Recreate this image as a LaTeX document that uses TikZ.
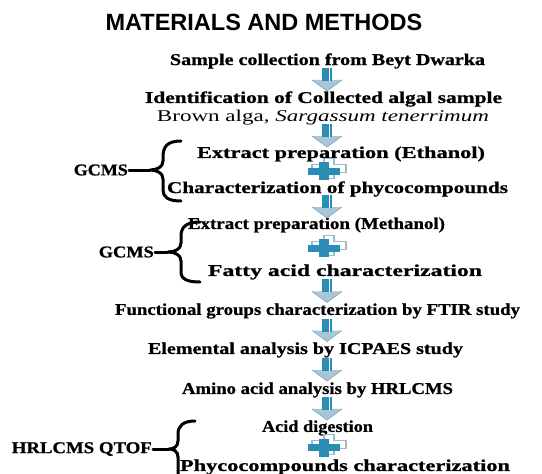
\documentclass[tikz,border=0pt]{standalone}
\usepackage{fontspec}
\setmainfont{Liberation Serif}[BoldFeatures={FakeBold=0.8}]
\newfontfamily\titlefont{Liberation Sans}
\usepackage{graphicx}
\definecolor{tealc}{HTML}{2B8DB5}
\definecolor{headc}{HTML}{A9C6D8}
\definecolor{headd}{HTML}{7FA6BD}
\definecolor{plusline}{HTML}{9DBBCD}
\newcommand\stepfont{\fontsize{16.5}{18}\selectfont\bfseries}
\newcommand\fitw[2]{\resizebox{#1pt}{\height}{#2}}
\tikzset{
  stepbox/.style={font=\stepfont, inner sep=1pt},
  sidelabel/.style={font=\stepfont, inner sep=1pt},
  bracestyle/.style={line width=3pt, line cap=round, line join=round},
  flowarrow/.pic={
    \fill[headc] (-15,0) -- (15,0) -- (0,11) -- cycle;
    \draw[headd, line width=0.6pt] (-15,0) -- (0,11) -- (15,0);
    \fill[tealc] (-5,-12) rectangle (5,1);
    \draw[white, line width=1pt] (2.5,-12) -- (2.5,1);
  },
  pluspic/.pic={
    \draw[plusline, line width=1.2pt, shift={(5,-3)}]
      (-5,-10) -- (5,-10) -- (5,-4) -- (17,-4) -- (17,4) -- (5,4) -- (5,10)
      -- (-5,10) -- (-5,4) -- (-17,4) -- (-17,-4) -- (-5,-4) -- cycle;
    \fill[tealc] (-16,-3.5) rectangle (16,3.5);
    \fill[tealc] (-5,-9) rectangle (5,9);
  }
}
\begin{document}
\begin{tikzpicture}[x=1pt,y=-1pt]
\useasboundingbox (0,0) rectangle (542,474);
\fill[white] (0,0) rectangle (542,474);
\node[font=\titlefont\fontsize{23.5}{26}\selectfont\bfseries] (title) at (264,22) {MATERIALS AND METHODS};
\node[stepbox] (n1) at (327.5,61) {\fitw{315}{Sample collection from Beyt Dwarka}};
\node[stepbox] (n2) at (323.5,99) {\fitw{357}{Identification of Collected algal sample}};
\node[stepbox, font=\fontsize{16.5}{18}\selectfont] (n3) at (323,118) {\fitw{332}{Brown alga, \textit{Sargassum tenerrimum}}};
\node[stepbox] (n4) at (341,154) {\fitw{288}{Extract preparation (Ethanol)}};
\node[stepbox] (n5) at (337.5,189) {\fitw{341}{Characterization of phycocompounds}};
\node[stepbox] (n6) at (316.5,225) {\fitw{257}{Extract preparation (Methanol)}};
\node[stepbox] (n7) at (345,272) {\fitw{274}{Fatty acid characterization}};
\node[stepbox] (n8) at (317.5,311) {\fitw{405}{Functional groups characterization by FTIR study}};
\node[stepbox] (n9) at (305.5,350) {\fitw{315}{Elemental analysis by ICPAES study}};
\node[stepbox] (n10) at (317.5,390) {\fitw{271}{Amino acid analysis by HRLCMS}};
\node[stepbox] (n11) at (317.5,428) {\fitw{111}{Acid digestion}};
\node[stepbox] (n12) at (345,467) {\fitw{330}{Phycocompounds characterization}};
\node[sidelabel, anchor=east] (g1) at (129,170) {\fitw{54}{GCMS}};
\node[sidelabel, anchor=east] (g2) at (155,252) {\fitw{55}{GCMS}};
\node[sidelabel, anchor=east] (g3) at (153,449) {\fitw{140}{HRLCMS QTOF}};
% arrow axis
\coordinate (ax) at (327,0);
\coordinate (px) at (324,0);
\foreach \a/\b/\m in {n1/n2/m1, n3/n4/m2, n5/n6/m3, n7/n8/m4, n8/n9/m5, n9/n10/m6, n10/n11/m7}{
  \path (\a) -- (\b) coordinate[midway] (\m);
  \pic at (ax |- \m) {flowarrow};
}
\foreach \a/\b/\m in {n4/n5/p1, n6/n7/p2, n11/n12/p3}{
  \path (\a) -- (\b) coordinate[midway] (\m);
  \pic at (px |- \m) {pluspic};
}
% braces
\coordinate (b1) at (150,170);
\coordinate (b2) at (168,252);
\coordinate (b3) at (169,449);
\draw[bracestyle] (g1.east) -- (b1);
\draw[bracestyle] (181,141) .. controls (167,141) and (163,147) .. (163,157)
  -- (163,161) .. controls (163,167) and (157,170) .. (b1)
  .. controls (157,170) and (163,173) .. (163,179) -- (163,190)
  .. controls (163,197) and (168,201) .. (181,201);
\draw[bracestyle] (g2.east) -- (b2);
\draw[bracestyle] (200,222) .. controls (185,222) and (181,228) .. (181,236)
  -- (181,243) .. controls (181,249) and (175,252) .. (b2)
  .. controls (175,252) and (181,255) .. (181,261) -- (181,272)
  .. controls (181,279) and (187,282) .. (200,282);
\draw[bracestyle] (g3.east) -- (b3);
\draw[bracestyle] (195,421) .. controls (183,421) and (178,426) .. (178,434)
  -- (178,441) .. controls (178,447) and (173,449) .. (b3)
  .. controls (173,449) and (178,451) .. (178,457) -- (178,478);
\end{tikzpicture}
\end{document}
